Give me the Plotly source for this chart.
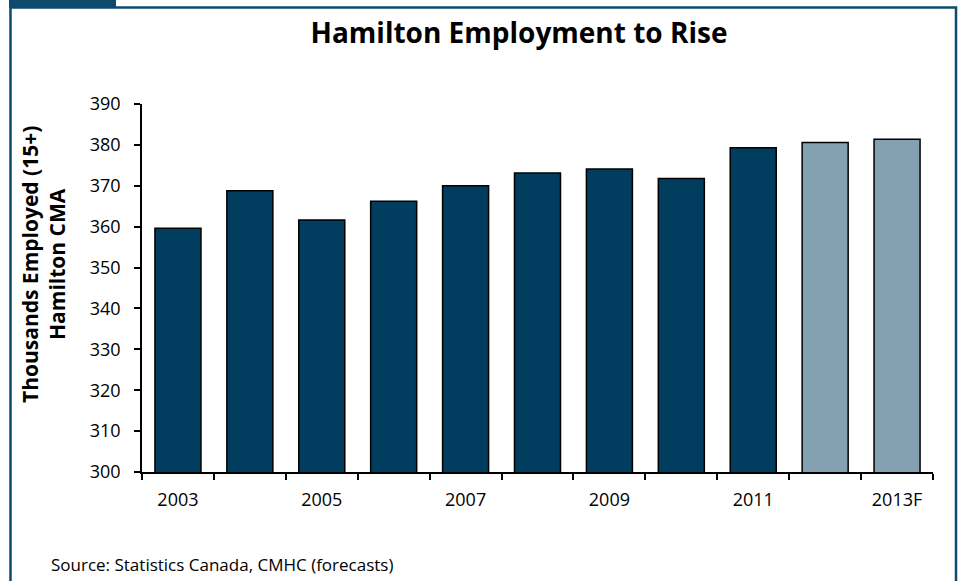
import plotly.graph_objects as go

# Employment, Hamilton CMA (thousands, age 15+)
years = ["2003", "2004", "2005", "2006", "2007", "2008", "2009", "2010", "2011", "2012", "2013F"]
employed = [359.6, 368.8, 361.6, 366.2, 370.0, 373.1, 374.1, 371.8, 379.3, 380.6, 381.4]
is_forecast = [False] * 9 + [True] * 2
tick_labels = ["2003", "", "2005", "", "2007", "", "2009", "", "2011", "", "2013F"]
y_ticks = list(range(300, 391, 10))

ACTUAL = "#003d5e"
FORECAST = "#84a1b2"
FRAME = "#0e4a6e"
FONT = "'Open Sans', Lato, sans-serif"

W, H = 959, 581
L, R, T, B = 142, 26, 104, 109
pw, ph = W - L - R, H - T - B


def px_x(x):
    return (x - L) / pw


def px_y(y):
    return (H - B - y) / ph


fig = go.Figure(
    go.Bar(
        x=years,
        y=employed,
        marker=dict(
            color=[FORECAST if f else ACTUAL for f in is_forecast],
            line=dict(color="#000000", width=1.5),
        ),
        width=0.64,
        hoverinfo="x+y",
    )
)

fig.update_layout(
    width=W,
    height=H,
    margin=dict(l=L, r=R, t=T, b=B),
    paper_bgcolor="white",
    plot_bgcolor="white",
    font=dict(family=FONT, size=16, color="#000000"),
    showlegend=False,
    bargap=0.36,
    title=dict(
        text="<b>Hamilton Employment to Rise</b>",
        x=519 / W,
        xanchor="center",
        y=1 - 33 / H,
        yanchor="middle",
        font=dict(family=FONT, size=28, color="#000000"),
    ),
    xaxis=dict(
        type="category",
        tickmode="array",
        tickvals=years,
        ticktext=tick_labels,
        tickson="boundaries",
        ticks="outside",
        ticklen=6,
        tickwidth=1.5,
        tickcolor="#000000",
        showline=True,
        linecolor="#000000",
        linewidth=1.5,
        showgrid=False,
        ticklabelstandoff=11,
        tickfont=dict(size=18),
    ),
    yaxis=dict(
        range=[300, 390],
        tickmode="array",
        tickvals=y_ticks,
        ticks="outside",
        ticklen=6,
        tickwidth=1.5,
        tickcolor="#000000",
        showline=True,
        linecolor="#000000",
        linewidth=1.5,
        showgrid=False,
        zeroline=False,
        ticklabelstandoff=10,
        tickfont=dict(size=18),
    ),
)

# Rotated two-line axis title
fig.add_annotation(
    text="<b>Thousands Employed (15+)<br>Hamilton CMA</b>",
    xref="paper",
    yref="paper",
    x=px_x(43),
    y=px_y(265),
    textangle=-90,
    showarrow=False,
    font=dict(family=FONT, size=21, color="#000000"),
    xanchor="center",
    yanchor="middle",
)

# Source note
fig.add_annotation(
    text="Source: Statistics Canada, CMHC (forecasts)",
    xref="paper",
    yref="paper",
    x=px_x(49),
    y=px_y(564),
    showarrow=False,
    xanchor="left",
    yanchor="middle",
    font=dict(family=FONT, size=17, color="#000000"),
)

# Frame around the exhibit and the tab at its top-left corner
fig.add_shape(
    type="rect",
    xref="paper",
    yref="paper",
    x0=px_x(10.5),
    x1=px_x(956),
    y0=px_y(600),
    y1=px_y(7.5),
    line=dict(color=FRAME, width=2.5),
    fillcolor="rgba(0,0,0,0)",
    layer="below",
)
fig.add_shape(
    type="rect",
    xref="paper",
    yref="paper",
    x0=px_x(9),
    x1=px_x(116),
    y0=px_y(7.5),
    y1=px_y(-1),
    line=dict(width=0),
    fillcolor=FRAME,
    layer="below",
)

fig.write_html("out.html")
